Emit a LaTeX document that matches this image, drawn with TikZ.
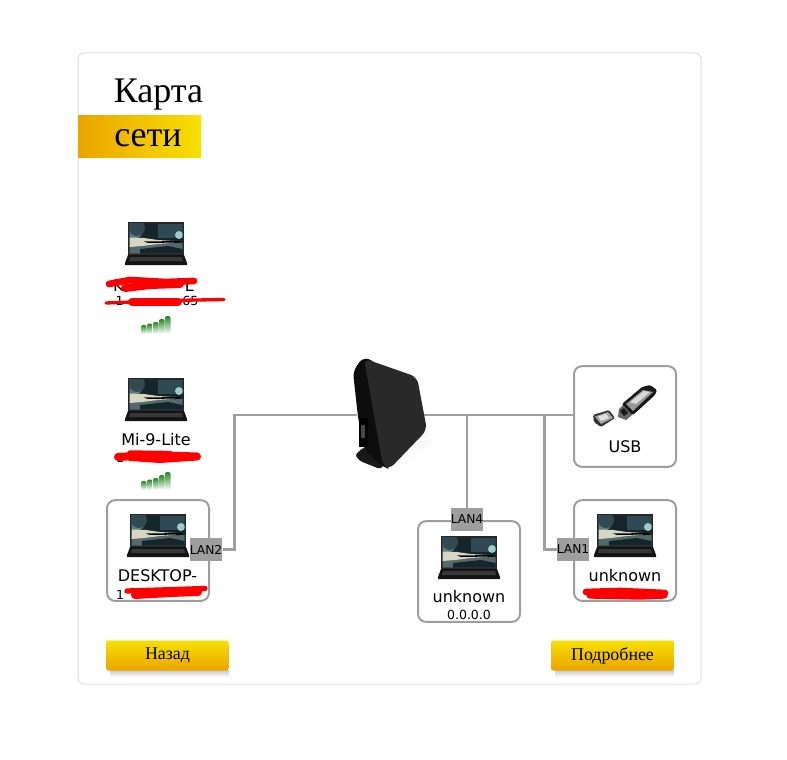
\documentclass[tikz,border=0pt]{standalone}
\usepackage{fontspec}
\setmainfont{DejaVu Sans}
\newfontfamily\titlefont{Liberation Serif}
\newfontfamily\btnfont{Liberation Serif}
\usetikzlibrary{calc}
\definecolor{linegray}{HTML}{9E9E9E}
\definecolor{beeline}{HTML}{F7E000}
\definecolor{beedark}{HTML}{EBA400}
\definecolor{skydark}{HTML}{14252C}
\definecolor{skylight}{HTML}{2F4A52}
\definecolor{streak}{HTML}{D8D6C2}
\definecolor{ground}{HTML}{55696A}
\tikzset{>=stealth}
\tikzset{
    card/.style={draw=black!12, line width=0.75pt, rounded corners=4.5pt, fill=white},
    devbox/.style={draw=linegray, line width=1.5pt, rounded corners=6pt, minimum width=76.5pt, minimum height=75.5pt, inner sep=0pt},
    link/.style={draw=linegray, line width=1.6pt},
    lanlabel/.style={fill=linegray, minimum width=24pt, minimum height=17pt, inner sep=0pt, font=\fontsize{9.2}{10}\selectfont},
    devname/.style={font=\fontsize{12}{13}\selectfont, inner sep=0pt},
    devip/.style={font=\fontsize{9.4}{11}\selectfont, inner sep=0pt},
    button/.style={top color=beeline, bottom color=beedark, rounded corners=1.5pt, minimum width=92pt, minimum height=22.5pt, inner sep=0pt, font=\btnfont\fontsize{13.4}{15}\selectfont},
    scribble/.style={draw=red, line cap=round, line join=round},
    pics/laptop/.style={code={
        \fill [black!85] (0,0) rectangle (56,33);
        \begin{scope}
            \clip (1.5,1.5) rectangle (54.5,31.5);
            \fill [skydark] (1.5,1.5) rectangle (54.5,31.5);
            \fill [skylight] (30,1.5) rectangle (54.5,16);
            \fill [gray!70!teal] (6,8) circle (9);
            \fill [skylight] (9,6) circle (8);
            \fill [white!60!teal] (51,13) circle (4);
            \fill [ground] (1.5,23) -- (30,22) -- (54.5,21) -- (54.5,31.5) -- (1.5,31.5) -- cycle;
            \fill [skydark] (12,27) -- (40,24) -- (54.5,27) -- (54.5,31.5) -- (12,31.5) -- cycle;
            \fill [streak] (1.5,15.5) -- (16,16) -- (30,18) -- (46,19) -- (46,21) -- (30,22) -- (14,24) -- (1.5,25) -- cycle;
            \fill [black] (16,19.5) -- (52,19) -- (52,20.5) -- (20,21) -- cycle;
        \end{scope}
        \fill [black!92] (0,33) -- (56,33) -- (59,41) -- (59,43) -- (-3,43) -- (-3,41) -- cycle;
        \fill [black!78] (2,35) -- (54,35) -- (55,39) -- (1,39) -- cycle;
    }},
    pics/wifi/.style={code={
        \foreach \bx/\btop in {0/9,6/7.5,12/6,18/3,24/0} {
            \shade [top color=green!45!black!85, bottom color=white, rounded corners=1.5pt] (\bx,\btop) rectangle ++(5.5,18-\btop);
        }
    }},
}
\begin{document}
\begin{tikzpicture}[x=0.75pt, y=-0.75pt]
    \useasboundingbox (0,0) rectangle (787,759);
    \fill [white] (0,0) rectangle (787,759);
    \draw [card] (78,53) rectangle (701,684);

    % title
    \fill [left color=beedark, right color=beeline] (78,116) rectangle (201,158);
    \node (title1) at (158.5,95) {\titlefont\fontsize{27}{30}\selectfont Карта};
    \node (title2) at (148,138) {\titlefont\fontsize{27}{30}\selectfont сети};

    % router and device boxes
    \node (router) at (390,415) [minimum width=49pt, minimum height=60pt, inner sep=0pt] {};
    \node (usb) at (625,416.5) [devbox] {};
    \node (desktop) at (158,550.5) [devbox] {};
    \node (lanone) at (625,550.5) [devbox] {};
    \node (lanfour) at (469,571.5) [devbox] {};
    \node (lan2) at (206,549.5) [lanlabel] {LAN2};
    \node (lan1) at (573,549.5) [lanlabel] {LAN1};
    \node (lan4) at (467,519.5) [lanlabel] {LAN4};

    % connectors
    \draw [link] (lan2.east) -- ++(12,0) |- (router.west);
    \draw [link] (router.east) -- (router.east -| usb.west);
    \draw [link] (lan4.north) -- (lan4.north |- router.east);
    \draw [link] (lan1.west) -- ++(-12,0) |- (router.east);

    % router
    \shade [top color=black!3, bottom color=white] (395,445) -- (428,430) -- (432,445) -- (395,472) -- cycle;
    \fill [black!90, rounded corners=2pt] (355,455) -- (364,447) -- (384,466) -- (380,469) -- (360,461) -- cycle;
    \fill [black!95, rounded corners=4pt] (362,358) -- (353,372) -- (358,417) -- (364,449) -- (384,468) -- (392,468) -- (374,360) -- cycle;
    \fill [black!84, rounded corners=5pt] (364,358.5) -- (417,377) -- (427,430) -- (389,469.5) -- (383,466) -- cycle;
    \fill [black] (359,418) rectangle (368,447);
    \fill [black!72] (361,425) rectangle (365,438);

    % laptops
    \pic at (128,222) {laptop};
    \pic at (128,378) {laptop};
    \pic at (130,514) {laptop};
    \pic at (441,536) {laptop};
    \pic at (597,514) {laptop};

    \pic at (141,316) {wifi};
    \pic at (141,472) {wifi};

    % usb stick
    \fill [black!90, rounded corners=1pt] (622,404) -- (642,387) -- (650,385) -- (657,390) -- (655,395) -- (633,415) -- (627,413) -- cycle;
    \fill [black!40] (626,404) -- (643,390) -- (653,392) -- (633,411) -- cycle;
    \fill [black!15] (630,402) -- (644,391) -- (650,392) -- (636,404) -- cycle;
    \fill [black!60] (619,409) -- (623,405) -- (632,415) -- (626,420) -- (618,417) -- cycle;
    \fill [black!90] (620,411) -- (624,408) -- (628,413) -- (624,416) -- cycle;
    \fill [black!80, rounded corners=1pt] (593,415) -- (609,410) -- (615,418) -- (601,427) -- (594,422) -- cycle;
    \fill [black!35] (595,416.5) -- (608,412) -- (613,418) -- (601,424) -- cycle;
    \fill [black!12] (598,416.5) -- (606,414) -- (609,418) -- (601,421) -- cycle;

    % labels
    \node (nameunit) at (153.5,286) [devname] {K\hspace{46pt}L};
    \node (ipunit) at (157,301) [devip] {1\hspace{44pt}65};
    \node (mi) at (156,440) [devname] {Mi-9-Lite};
    \node (ipmi) at (120,458) [devip] {1};
    \node (namedesk) at (157.5,576) [devname] {DESKTOP-};
    \node (ipdesk) at (120,595) [devip] {1};
    \node (usbname) at (625,447) [devname] {USB};
    \node (nameone) at (625,576) [devname] {unknown};
    \node (namefour) at (469,597) [devname] {unknown};
    \node (ipfour) at (469,614.5) [devip] {0.0.0.0};

    % scribbles
    \draw [scribble, line width=5pt] (109,284) -- (130,280) -- (165,282) -- (194,281);
    \draw [scribble, line width=6pt] (125,288) -- (150,285) -- (180,284) -- (135,283);
    \draw [scribble, line width=2.5pt] (106,303) -- (170,300.5) -- (224,299.5);
    \draw [scribble, line width=6pt] (132,302) -- (178,302);
    \draw [scribble, line width=6pt] (118,457) -- (150,455) -- (197,456.5) -- (160,459) -- (130,457);
    \draw [scribble, line width=4pt] (130,453) -- (170,453.5);
    \draw [scribble, line width=4pt] (127,591) -- (160,590) -- (205,588.5);
    \draw [scribble, line width=6pt] (135,595) -- (170,593) -- (198,592);
    \draw [scribble, line width=5pt] (586,592) -- (620,591) -- (665,593);
    \draw [scribble, line width=5.5pt] (590,595) -- (640,596) -- (664,595);

    % buttons
    \shade [top color=black!22, bottom color=white] (110,670) rectangle (229,677);
    \shade [top color=black!22, bottom color=white] (555,670) rectangle (674,677);
    \node (back) at (167.5,655.5) [button] {Назад};
    \node (more) at (612.5,655.5) [button] {Подробнее};
\end{tikzpicture}
\end{document}
